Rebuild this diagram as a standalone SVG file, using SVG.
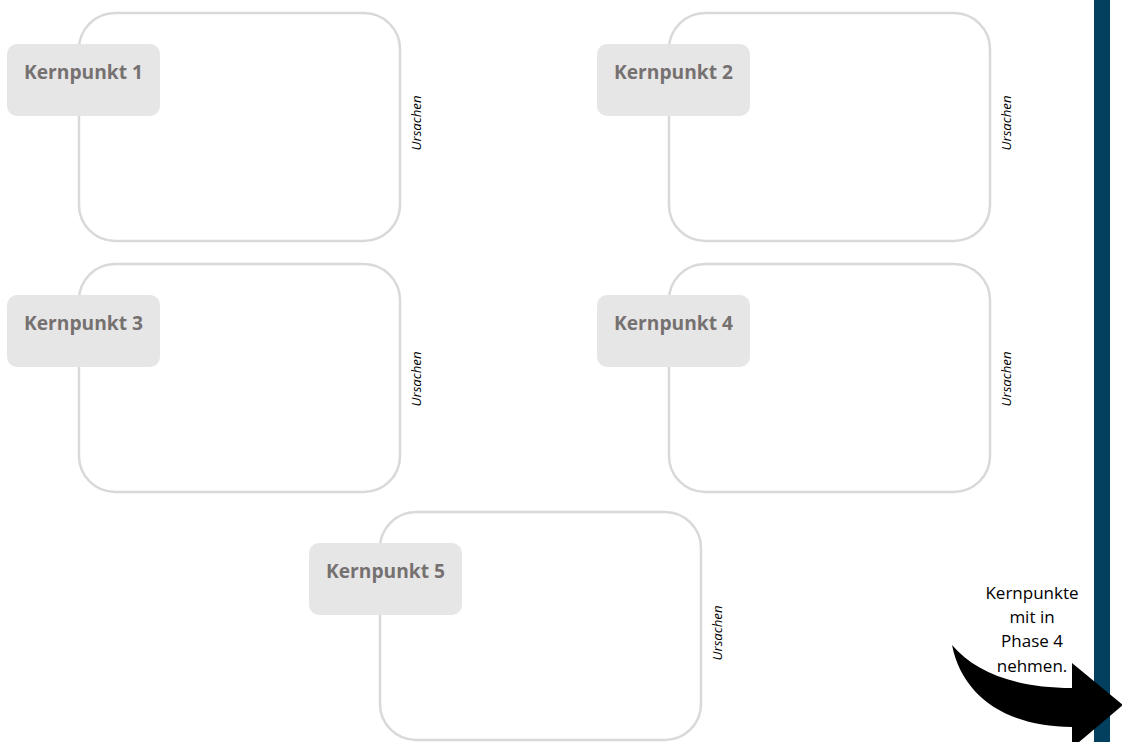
<svg xmlns="http://www.w3.org/2000/svg" width="1122" height="742" viewBox="0 0 1122 742">
<style>
.frame{fill:#ffffff;stroke:#d9d9d9;stroke-width:2.5}
.lab{fill:#e7e6e6;stroke:none}
.labt{font-family:"Open Sans","Liberation Sans",sans-serif;font-weight:bold;font-size:20px;fill:#767171;text-anchor:middle}
.urs{font-family:"Open Sans","Liberation Sans",sans-serif;font-style:italic;font-size:12px;fill:#000000;text-anchor:middle}
.note{font-family:"Open Sans","Liberation Sans",sans-serif;font-size:17px;fill:#000000;text-anchor:middle}
</style>
<rect x="0" y="0" width="1122" height="742" fill="#ffffff"/>
<rect id="bar" x="1094" y="0" width="16" height="742" fill="#03405f"/>
<g id="k1">
<rect class="frame" x="79" y="13" width="321" height="228" rx="36"/>
<rect class="lab" x="7" y="44" width="153" height="72" rx="10"/>
<text class="labt" x="83.5" y="79" textLength="119" lengthAdjust="spacingAndGlyphs">Kernpunkt 1</text>
<text class="urs" transform="translate(421,123) rotate(-90)" textLength="55" lengthAdjust="spacingAndGlyphs">Ursachen</text>
</g>
<g id="k2">
<rect class="frame" x="669" y="13" width="321" height="228" rx="36"/>
<rect class="lab" x="597" y="44" width="153" height="72" rx="10"/>
<text class="labt" x="673.5" y="79" textLength="119" lengthAdjust="spacingAndGlyphs">Kernpunkt 2</text>
<text class="urs" transform="translate(1011,123) rotate(-90)" textLength="55" lengthAdjust="spacingAndGlyphs">Ursachen</text>
</g>
<g id="k3">
<rect class="frame" x="79" y="264" width="321" height="228" rx="36"/>
<rect class="lab" x="7" y="295" width="153" height="72" rx="10"/>
<text class="labt" x="83.5" y="330" textLength="119" lengthAdjust="spacingAndGlyphs">Kernpunkt 3</text>
<text class="urs" transform="translate(421,379) rotate(-90)" textLength="55" lengthAdjust="spacingAndGlyphs">Ursachen</text>
</g>
<g id="k4">
<rect class="frame" x="669" y="264" width="321" height="228" rx="36"/>
<rect class="lab" x="597" y="295" width="153" height="72" rx="10"/>
<text class="labt" x="673.5" y="330" textLength="119" lengthAdjust="spacingAndGlyphs">Kernpunkt 4</text>
<text class="urs" transform="translate(1011,379) rotate(-90)" textLength="55" lengthAdjust="spacingAndGlyphs">Ursachen</text>
</g>
<g id="k5">
<rect class="frame" x="380" y="512" width="321" height="228" rx="36"/>
<rect class="lab" x="309" y="543" width="153" height="72" rx="10"/>
<text class="labt" x="385.5" y="578" textLength="119" lengthAdjust="spacingAndGlyphs">Kernpunkt 5</text>
<text class="urs" transform="translate(722,633) rotate(-90)" textLength="55" lengthAdjust="spacingAndGlyphs">Ursachen</text>
</g>
<g id="note">
<text class="note" x="1032" y="599">Kernpunkte</text>
<text class="note" x="1032" y="623">mit in</text>
<text class="note" x="1032" y="647">Phase 4</text>
<text class="note" x="1032" y="672">nehmen.</text>
</g>
<g id="connectors">
<path d="M952,645 C975,672 1015,688 1072,688 L1072,663 L1123,705 L1072,748 L1072,727 C1005,727 962,695 952,645 Z" fill="#000000"/>
</g>
</svg>
